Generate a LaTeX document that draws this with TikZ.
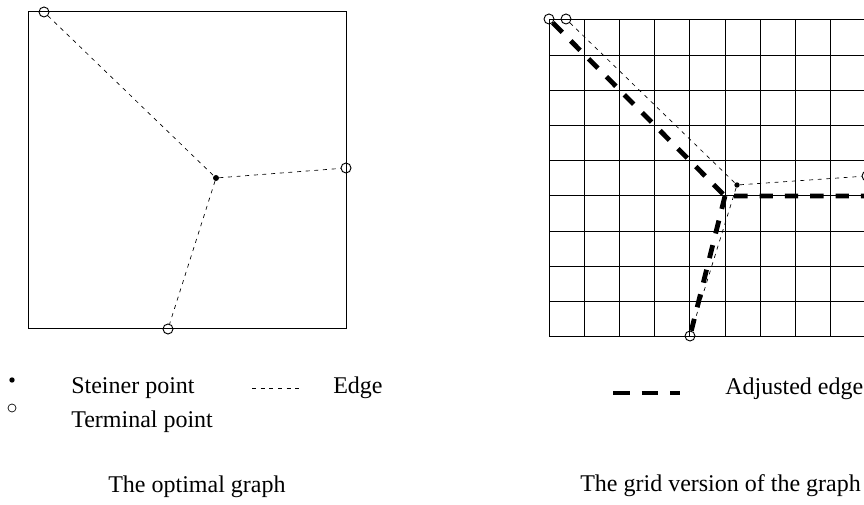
\documentclass[tikz,border=0pt]{standalone}
\usepackage{fontspec}
\setmainfont{Liberation Serif}
\tikzset{
  terminal/.style={circle,draw,line width=0.7pt,inner sep=0pt,minimum size=7.5pt},
  steiner/.style={circle,fill,inner sep=0pt,minimum size=4.5pt},
  edgeline/.style={dash pattern=on 3pt off 3.5pt,line width=0.5pt},
  adjusted/.style={dash pattern=on 10pt off 9pt,line width=3.6pt},
  legtext/.style={anchor=base west,inner sep=0pt,font=\fontsize{18}{22}\selectfont},
}
\begin{document}
\begin{tikzpicture}[x=0.75pt,y=-0.75pt]
\clip (0,0) rectangle (864,505);

\draw[line width=0.75pt] (28,12) rectangle (346,329);
\node[terminal] at (44,12) (t1) {};
\node[terminal] at (346,168) (r1) {};
\node[terminal] at (168,329) (b1) {};
\node[steiner] at (216,178) (s1) {};
\draw[edgeline] (t1) -- (s1);
\draw[edgeline] (s1) -- (r1);
\draw[edgeline] (s1) -- (b1);

\foreach \i in {0,...,9} {
  \draw[line width=0.75pt] (549+35.2*\i,20) -- (549+35.2*\i,336.8);
  \draw[line width=0.75pt] (549,20+35.2*\i) -- (865.8,20+35.2*\i);
}
\node[terminal] at (549,19) (t2) {};
\node[terminal] at (566,19) (t3) {};
\node[terminal] at (867,176) (r2) {};
\node[terminal] at (690,336) (b2) {};
\node[steiner,minimum size=4pt] at (737,185) (s2) {};
\coordinate (g55) at (725,196);
\coordinate (g95) at (870,196);
\draw[edgeline] (t3) -- (s2);
\draw[edgeline] (s2) -- (r2);
\draw[edgeline] (s2) -- (b2);
\draw[adjusted] (t2) -- (g55) -- (g95);
\draw[adjusted] (g55) -- (b2);

\node[steiner,minimum size=4pt] at (12,380) (ls) {};
\node[terminal,minimum size=6pt,line width=0.5pt] at (12,408) (lt) {};
\node[legtext] at (71,394) (lsn) {Steiner point};
\node[legtext] at (71,428) (ltn) {Terminal point};
\coordinate (le1) at (252,388);
\coordinate (le2) at (302,388);
\draw[edgeline] (le1) -- (le2);
\node[legtext] at (333,394) (len) {Edge};
\coordinate (la1) at (613,393);
\coordinate (la2) at (680,393);
\draw[adjusted,dash pattern=on 12.5pt off 9pt] (la1) -- (la2);
\node[legtext] at (725,395) (lan) {Adjusted edge};

\node[legtext] at (108,493) (cap1) {The optimal graph};
\node[legtext] at (580,492) (cap2) {The grid version of the graph};
\end{tikzpicture}
\end{document}
